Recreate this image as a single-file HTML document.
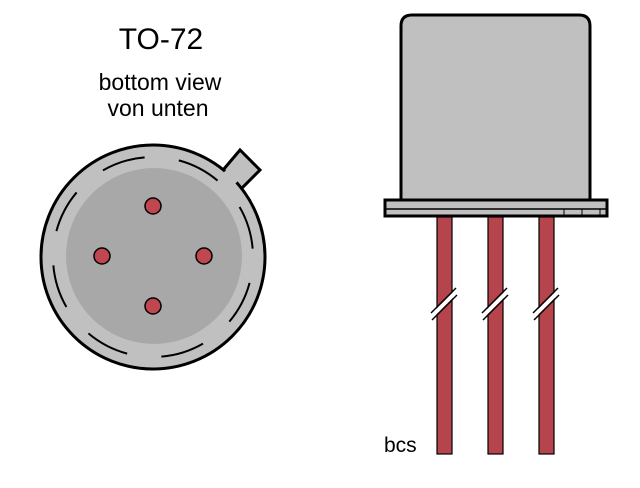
<!DOCTYPE html>
<html><head><style>body{margin:0;background:#fff}svg{display:block}</style></head><body>
<svg width="640" height="488" viewBox="0 0 640 488" xmlns="http://www.w3.org/2000/svg" font-family="Liberation Sans, sans-serif">
<text x="161" y="49" font-size="30" text-anchor="middle">TO-72</text>
<text x="160" y="90" font-size="23" text-anchor="middle">bottom view</text>
<text x="158" y="116" font-size="23" text-anchor="middle">von unten</text>
<g stroke="#000" stroke-width="3" fill="#c0c0c0">
<path d="M218,176 L240,150 L260,170 L236,194 Z"/>
<circle cx="153" cy="257" r="112"/>
</g>
<rect x="226" y="168" width="16" height="14" fill="#c0c0c0" transform="rotate(45 235 174)"/>
<circle cx="154" cy="256" r="88" fill="#a8a8a8"/>
<circle cx="153" cy="257" r="100" fill="none" stroke="#000" stroke-width="2" stroke-dasharray="44 34.5" transform="rotate(-30 153 257)"/>
<g fill="#c0474f" stroke="#000" stroke-width="1.5">
<circle cx="153" cy="206" r="8"/><circle cx="102" cy="256" r="8"/><circle cx="204" cy="256" r="8"/><circle cx="153" cy="306" r="8"/>
</g>
<path d="M401,200 L401,26 Q401,15 412,15 L579,15 Q590,15 590,26 L590,200" fill="#c0c0c0" stroke="#000" stroke-width="3"/>
<rect x="385" y="200" width="222" height="16" fill="#c0c0c0" stroke="#000" stroke-width="3"/>
<line x1="386" y1="209" x2="606" y2="209" stroke="#000" stroke-width="1.5"/>
<g stroke="#000" stroke-width="1"><line x1="564" y1="209" x2="564" y2="215"/><line x1="582" y1="209" x2="582" y2="215"/><line x1="600" y1="209" x2="600" y2="215"/></g>
<g fill="#b5444c" stroke="#000" stroke-width="1.2">
<rect x="437" y="217" width="15" height="237"/><rect x="488" y="217" width="15" height="237"/><rect x="539" y="217" width="15" height="237"/>
</g>
<g stroke="#fff" stroke-width="4">
<line x1="432" y1="316" x2="456" y2="292"/><line x1="483" y1="316" x2="507" y2="292"/><line x1="534" y1="316" x2="558" y2="292"/>
</g>
<g stroke="#000" stroke-width="1.5">
<line x1="431" y1="313" x2="456" y2="288"/><line x1="432" y1="320" x2="457" y2="295"/>
<line x1="482" y1="313" x2="507" y2="288"/><line x1="483" y1="320" x2="508" y2="295"/>
<line x1="533" y1="313" x2="558" y2="288"/><line x1="534" y1="320" x2="559" y2="295"/>
</g>
<text x="384" y="452" font-size="21">bcs</text>
</svg>
</body></html>
